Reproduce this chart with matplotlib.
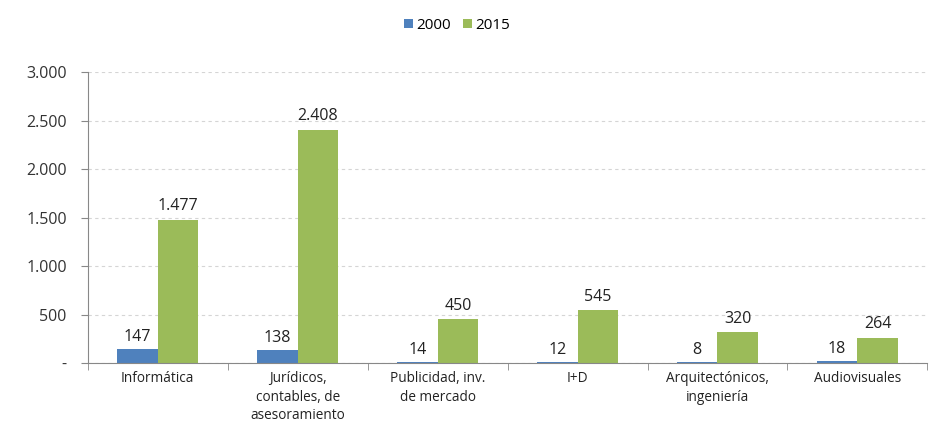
import matplotlib
matplotlib.use("Agg")
import matplotlib.pyplot as plt
import numpy as np
from matplotlib.ticker import FuncFormatter

categories = ["Informática", "Jurídicos,\ncontables, de\nasesoramiento", "Publicidad, inv.\nde mercado",
              "I+D", "Arquitectónicos,\ningeniería", "Audiovisuales"]
series_names = ["2000", "2015"]
values_2000 = [147, 138, 14, 12, 8, 18]
values_2015 = [1477, 2408, 450, 545, 320, 264]
yticks = [0, 500, 1000, 1500, 2000, 2500, 3000]

plt.rcParams['font.family'] = ['Open Sans', 'DejaVu Sans']

fig = plt.figure(figsize=(9.33, 4.37), dpi=100)
ax = fig.add_axes([0.094, 0.169, 0.9, 0.666])

x = np.arange(len(categories))
w = 0.29
c1, c2 = "#4F81BD", "#9BBB59"
b1 = ax.bar(x - w/2, values_2000, w, color=c1, label=series_names[0])
b2 = ax.bar(x + w/2, values_2015, w, color=c2, label=series_names[1])

def fmt(v):
    return f"{v:,}".replace(",", ".")

for rect, v in zip(b1, values_2000):
    ax.annotate(fmt(v), (rect.get_x() + rect.get_width()/2, v), xytext=(0, 3),
                textcoords="offset points", ha="center", va="bottom", fontsize=11.5, color="#222222")
for rect, v in zip(b2, values_2015):
    ax.annotate(fmt(v), (rect.get_x() + rect.get_width()/2, v), xytext=(0, 4),
                textcoords="offset points", ha="center", va="bottom", fontsize=11.5, color="#222222")

ax.set_ylim(0, 3000)
ax.set_xlim(-0.5, len(categories) - 0.5)
ax.set_yticks(yticks)
ax.yaxis.set_major_formatter(FuncFormatter(lambda v, p: "-" if v == 0 else fmt(int(v))))
ax.set_xticks(x)
ax.set_xticklabels(categories, fontsize=9.8, color="#222222", linespacing=1.3)
ax.set_xticks(np.arange(-0.5, len(categories)), minor=True)
ax.tick_params(axis="x", which="major", length=0, pad=6)
ax.tick_params(axis="x", which="minor", length=5, color="#888888")
ax.tick_params(axis="y", length=5, color="#888888", labelsize=11.5, labelcolor="#333333", pad=10)

ax.grid(axis="y", linestyle=(0, (3, 3)), color="#d5d5d5", linewidth=0.8)
ax.set_axisbelow(True)
for s in ["top", "right"]:
    ax.spines[s].set_visible(False)
ax.spines["left"].set_color("#888888")
ax.spines["bottom"].set_color("#888888")

fig.legend(handles=[b1, b2], labels=series_names, loc="upper center", bbox_to_anchor=(0.49, 0.99),
           ncol=2, frameon=False, fontsize=11, handlelength=0.55, handleheight=0.55,
           handletextpad=0.25, columnspacing=0.8)

fig.savefig("out.png", dpi=100)
